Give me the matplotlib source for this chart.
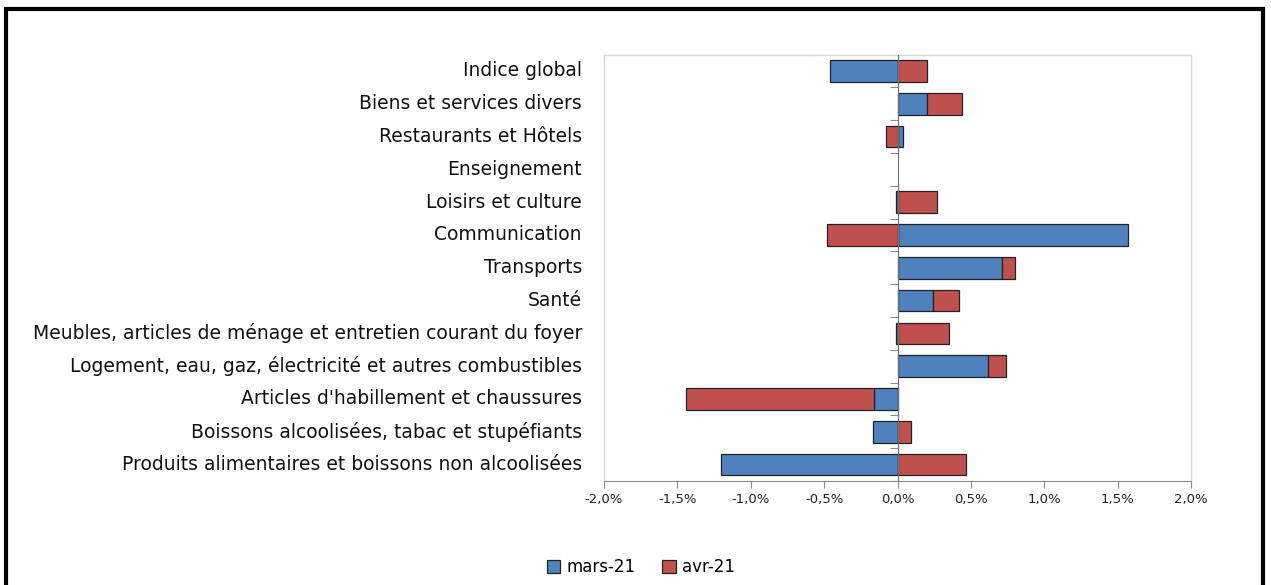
import matplotlib
matplotlib.use("Agg")
import matplotlib.pyplot as plt
from matplotlib.patches import Rectangle
from matplotlib.ticker import FuncFormatter, FixedLocator
import matplotlib.transforms as mtransforms
import numpy as np

categories = [
    "Indice global",
    "Biens et services divers",
    "Restaurants et Hôtels",
    "Enseignement",
    "Loisirs et culture",
    "Communication",
    "Transports",
    "Santé",
    "Meubles, articles de ménage et entretien courant du foyer",
    "Logement, eau, gaz, électricité et autres combustibles",
    "Articles d'habillement et chaussures",
    "Boissons alcoolisées, tabac et stupéfiants",
    "Produits alimentaires et boissons non alcoolisées",
]
mars_21 = [-0.46, 0.20, 0.04, 0.0, -0.01, 1.57, 0.71, 0.24, -0.01, 0.62, -0.16, -0.17, -1.20]
avr_21 = [0.20, 0.24, -0.08, 0.0, 0.27, -0.48, 0.09, 0.18, 0.35, 0.12, -1.28, 0.09, 0.47]
series_names = ["mars-21", "avr-21"]
colors = ["#4F81BD", "#C0504D"]
xticks = [-2.0, -1.5, -1.0, -0.5, 0.0, 0.5, 1.0, 1.5, 2.0]

plt.rcParams['font.family'] = ['DejaVu Sans']

fig = plt.figure(figsize=(12.71, 5.85), dpi=100)
ax = fig.add_axes([604/1271, 1-481/585, (1191-604)/1271, (481-54.6)/585])

y = np.arange(len(categories))
pos_cum = np.zeros(len(categories))
neg_cum = np.zeros(len(categories))
for name, vals, c in zip(series_names, [mars_21, avr_21], colors):
    v = np.array(vals, dtype=float)
    left = np.where(v >= 0, pos_cum, neg_cum)
    lws = np.where(v == 0, 0.0, 0.9)
    ax.barh(y, v, left=left, height=0.66, color=c, edgecolor="#222222",
            linewidth=lws, label=name, zorder=3)
    pos_cum = pos_cum + np.where(v > 0, v, 0)
    neg_cum = neg_cum + np.where(v < 0, v, 0)

ax.set_xlim(-2.0, 2.0)
ax.set_ylim(len(categories) - 0.5, -0.5)

for s in ["top", "right"]:
    ax.spines[s].set_color("#d9d9d9")
    ax.spines[s].set_linewidth(1.0)
ax.spines["bottom"].set_color("#8c8c8c")
ax.spines["left"].set_position(("data", 0))
ax.spines["left"].set_color("#6e6e6e")
ax.spines["left"].set_zorder(4)

ax.add_line(plt.Line2D([0, 0], [0, 1], transform=ax.transAxes, color="#d9d9d9", lw=1.0, clip_on=False))

ax.set_xticks(xticks)
ax.xaxis.set_major_formatter(FuncFormatter(lambda v, p: f"{v:.1f}%".replace(".", ",")))
ax.tick_params(axis="x", direction="out", length=5, color="#8c8c8c", labelsize=9.5,
               labelcolor="#222222", pad=4)

ax.yaxis.set_major_locator(FixedLocator(np.arange(-0.5, len(categories), 1.0)))
ax.set_yticklabels([])
ax.tick_params(axis="y", direction="out", length=6, color="#8c8c8c")

trans = mtransforms.blended_transform_factory(ax.transAxes, ax.transData)
for i, cat in enumerate(categories):
    ax.text(-0.0375, i, cat, transform=trans, ha="right", va="center",
            fontsize=13.5, color="#111111")

leg = fig.legend(loc="center", bbox_to_anchor=(641/1271, 1-567/585), ncol=2, frameon=False,
                 fontsize=12, handlelength=0.8, handleheight=0.8, handletextpad=0.4,
                 columnspacing=1.6)

fig.add_artist(Rectangle((6/1271, -0.05), (1263-6)/1271, 1.05 - 9/585,
                         transform=fig.transFigure, fill=False, lw=3, edgecolor="black"))

fig.savefig("out.png", dpi=100)
